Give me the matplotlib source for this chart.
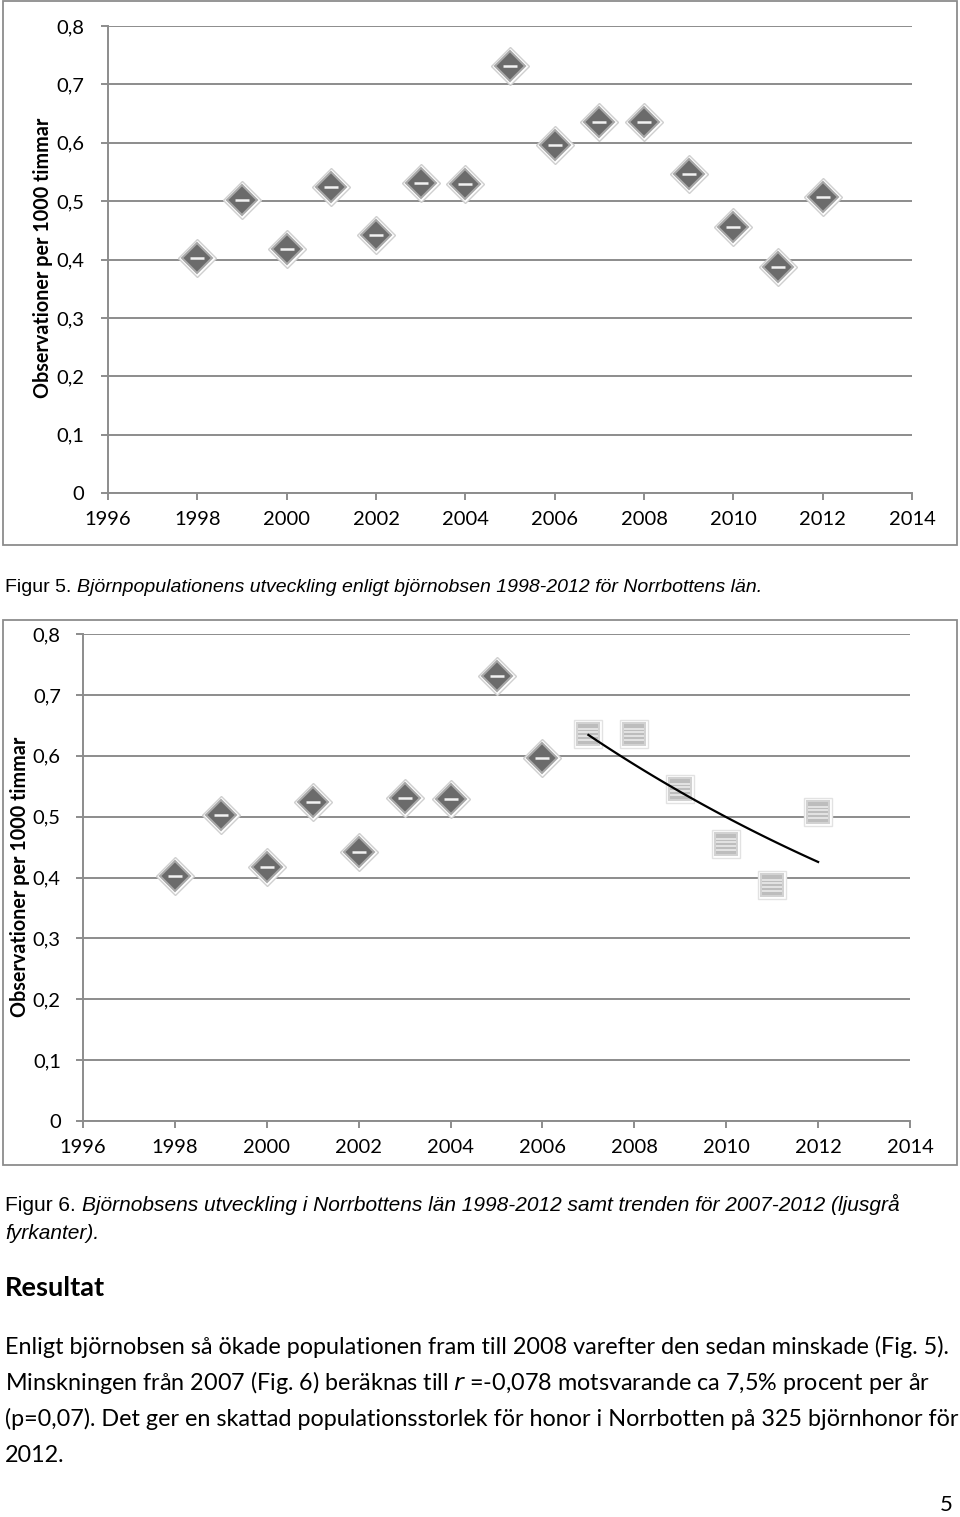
import numpy as np
import matplotlib
matplotlib.use("Agg")
import matplotlib.pyplot as plt
from matplotlib.patches import Rectangle
from matplotlib.path import Path

# data
years = [1998, 1999, 2000, 2001, 2002, 2003, 2004, 2005, 2006, 2007, 2008, 2009, 2010, 2011, 2012]
obs = [0.402, 0.502, 0.418, 0.524, 0.442, 0.531, 0.529, 0.731, 0.596, 0.635, 0.635, 0.546, 0.455, 0.387, 0.507]
trend_start = 2007
yticks = [0, 0.1, 0.2, 0.3, 0.4, 0.5, 0.6, 0.7, 0.8]
ytick_labels = ['0', '0,1', '0,2', '0,3', '0,4', '0,5', '0,6', '0,7', '0,8']
xticks = [1996, 1998, 2000, 2002, 2004, 2006, 2008, 2010, 2012, 2014]

ylabel = 'Observationer per 1000 timmar'
cap5_a = 'Figur 5. '
cap5_b = 'Björnpopulationens utveckling enligt björnobsen 1998-2012 för Norrbottens län.'
cap6_a = 'Figur 6. '
cap6_b = 'Björnobsens utveckling i Norrbottens län 1998-2012 samt trenden för 2007-2012 (ljusgrå'
cap6_c = 'fyrkanter).'
heading = 'Resultat'
body = ['Enligt björnobsen så ökade populationen fram till 2008 varefter den sedan minskade (Fig. 5).',
        'Minskningen från 2007 (Fig. 6) beräknas till $\\it{r}$ =-0,078 motsvarande ca 7,5% procent per år',
        '(p=0,07). Det ger en skattad populationsstorlek för honor i Norrbotten på 325 björnhonor för',
        '2012.']

W, H = 960, 1517
GRID = '#8c8c8c'
TXT = ['Lato', 'DejaVu Sans']

fig = plt.figure(figsize=(W / 100, H / 100), dpi=100)


def px_axes(x0, y0, x1, y1):
    # rectangle in pixel coords (top-left origin)
    return fig.add_axes([x0 / W, 1 - y1 / H, (x1 - x0) / W, (y1 - y0) / H])


def frame(x0, y0, x1, y1):
    fig.patches.append(Rectangle((x0 / W, 1 - y1 / H), (x1 - x0) / W, (y1 - y0) / H,
                                 transform=fig.transFigure, fill=False,
                                 edgecolor=GRID, lw=1.3))


def caption(y, head, rest, size):
    # regular "Figur n." followed by italic text on the same baseline
    t = fig.text(5 / W, 1 - y / H, head, ha='left', va='baseline', fontsize=size, family='Liberation Sans')
    fig.canvas.draw()
    bb = t.get_window_extent()
    fig.text(bb.x1 / W, 1 - y / H, rest, ha='left', va='baseline', fontsize=size,
             family='Liberation Sans', style='italic')


# striped marker for the trend years
stripes = Path([(-1, -0.55), (1, -0.55), (-1, -0.2), (1, -0.2), (-1, 0.15), (1, 0.15), (-1, 0.5), (1, 0.5)],
               [Path.MOVETO, Path.LINETO] * 4)


def diamonds(ax, xs, ys):
    ax.plot(xs, ys, 'D', ms=19, mfc='white', mec='#cfcfcf', mew=1.0, zorder=3)
    ax.plot(xs, ys, 'D', ms=15, mfc='#6b6b6b', mec='#a8a8a8', mew=1.5, zorder=4)
    ax.plot(xs, ys, '_', ms=10, mec='#f2f2f2', mew=1.8, zorder=5)


def squares(ax, xs, ys):
    ax.plot(xs, ys, 's', ms=20, mfc='white', mec='#e2e2e2', mew=1.0, zorder=3)
    ax.plot(xs, ys, 's', ms=16, mfc='#bdbdbd', mec='#d2d2d2', mew=1.5, zorder=4)
    ax.plot(xs, ys, marker=stripes, ls='none', ms=15, mec='#e6e6e6', mew=1.3, zorder=5)


def style(ax, ypad):
    ax.set_xlim(1996, 2014)
    ax.set_ylim(0, 0.8)
    ax.set_yticks(yticks)
    ax.set_yticklabels(ytick_labels)
    ax.set_xticks(xticks)
    ax.grid(axis='y', color=GRID, lw=1.4)
    ax.set_axisbelow(True)
    for s in ['top', 'right']:
        ax.spines[s].set_visible(False)
    for s in ['left', 'bottom']:
        ax.spines[s].set_color(GRID)
        ax.spines[s].set_linewidth(1.4)
    ax.tick_params(axis='both', colors=GRID, length=5, width=1.4, labelcolor='black', labelsize=14.5)
    ax.tick_params(axis='y', pad=ypad)
    ax.tick_params(axis='x', pad=8)
    for lab in ax.get_xticklabels() + ax.get_yticklabels():
        lab.set_family(TXT)


# ---- Figur 5 ----
frame(3, 1, 957, 545)
ax1 = px_axes(108, 26, 912, 493)
style(ax1, 12)
diamonds(ax1, years, obs)
fig.text(43 / W, 1 - 258 / H, ylabel, rotation=90, ha='center', va='center',
         fontsize=14.2, fontweight='bold', family=TXT)
caption(592, cap5_a, cap5_b, 14)

# ---- Figur 6 ----
frame(3, 620, 957, 1165)
ax2 = px_axes(83, 634, 910, 1121)
style(ax2, 11)
yrs = np.array(years)
vals = np.array(obs)
sel = yrs >= trend_start
diamonds(ax2, yrs[~sel], vals[~sel])
squares(ax2, yrs[sel], vals[sel])
# exponential trend fitted on 2007-2012
k, c = np.polyfit(yrs[sel] - trend_start, np.log(vals[sel]), 1)
tx = np.linspace(trend_start, yrs[sel].max(), 50)
ax2.plot(tx, np.exp(c + k * (tx - trend_start)), color='black', lw=1.6, zorder=6)
fig.text(20 / W, 1 - 877 / H, ylabel, rotation=90, ha='center', va='center',
         fontsize=14.2, fontweight='bold', family=TXT)

caption(1211, cap6_a, cap6_b, 15)
fig.text(5 / W, 1 - 1239 / H, cap6_c, ha='left', va='baseline', fontsize=15,
         family='Liberation Sans', style='italic')

# ---- text ----
fig.text(5 / W, 1 - 1288 / H, heading, ha='left', va='center', fontsize=19.5, fontweight='bold', family=TXT)
for i, line in enumerate(body):
    fig.text(5 / W, 1 - (1347 + 36 * i) / H, line, ha='left', va='center', fontsize=16.8, family=TXT)
fig.text(953 / W, 1 - 1505 / H, '5', ha='right', va='center', fontsize=16, family=TXT)

fig.savefig('out.png', dpi=100)
